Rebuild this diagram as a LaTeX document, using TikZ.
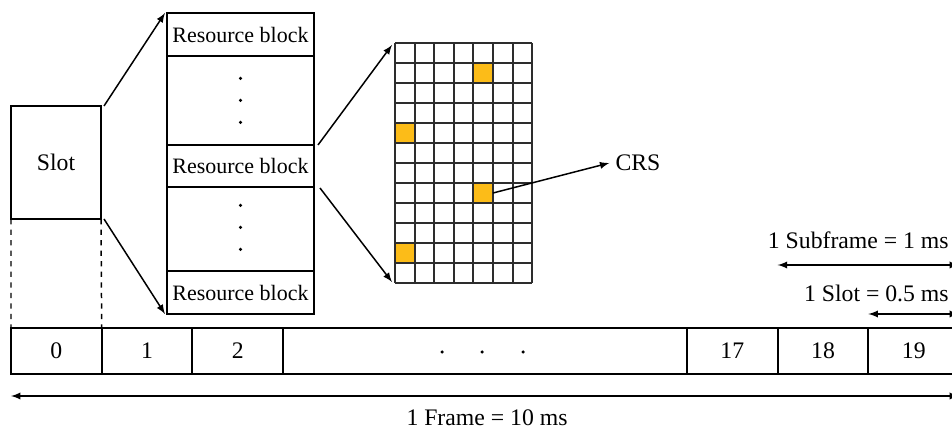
\documentclass[tikz,border=0pt]{standalone}
\usepackage{fontspec}
\setmainfont{Liberation Serif}
\usetikzlibrary{%
  arrows,%
  calc,%
  positioning%
}
\tikzset{>=latex}
\definecolor{crsorange}{RGB}{252,188,24}
\definecolor{gridgray}{RGB}{45,45,45}
\tikzset{
  cell/.style={draw,line width=1.1pt,minimum width=1.814cm,minimum height=0.92cm,inner sep=0pt,outer sep=0pt},
  rblock/.style={draw,line width=1.1pt,minimum width=2.94cm,inner sep=0pt,outer sep=0pt,font=\fontsize{12.5}{15}\selectfont},
  crscell/.style={fill=crsorange,minimum width=0.392cm,minimum height=0.4cm,inner sep=0pt,outer sep=0pt},
  arr/.style={line width=0.85pt},
  lbl/.style={inner sep=0pt}
}

\begin{document}
\begin{tikzpicture}[font=\fontsize{13.5}{16}\selectfont]
    \clip (0,0) rectangle (19.04,8.6);
    % frame with its slots
    \node[cell] (c0) at (1.127,1.58) {0};
    \node[cell,right=0pt of c0] (c1) {1};
    \node[cell,right=0pt of c1] (c2) {2};
    \node[cell,right=0pt of c2,minimum width=8.078cm] (cdots) {};
    \node[cell,right=0pt of cdots] (c17) {17};
    \node[cell,right=0pt of c17] (c18) {18};
    \node[cell,right=0pt of c18] (c19) {19};
    \foreach \dx in {-0.86,-0.06,0.76}
      \fill ($(cdots.center)+(\dx,-0.02)$) circle (0.035);
    % one slot
    \node[draw,line width=1.1pt,minimum width=1.8cm,minimum height=2.26cm,outer sep=0pt] (slot) at (1.12,5.35) {Slot};
    \draw[dashed,arr] (slot.south west) -- (c0.north west);
    \draw[dashed,arr] (slot.south east) -- (c0.north east);
    % resource blocks
    \node[rblock,minimum height=0.86cm] (rb1) at (4.81,7.91) {Resource block};
    \node[rblock,minimum height=1.78cm,below=0pt of rb1] (rbdots1) {};
    \node[rblock,minimum height=0.84cm,below=0pt of rbdots1] (rb2) {Resource block};
    \node[rblock,minimum height=1.68cm,below=0pt of rb2] (rbdots2) {};
    \node[rblock,minimum height=0.86cm,below=0pt of rbdots2] (rb3) {Resource block};
    \foreach \dy in {0.44,0,-0.44} {
      \fill ($(rbdots1.center)+(0,\dy)$) circle (0.035);
      \fill ($(rbdots2.center)+(0,\dy+0.03)$) circle (0.035);
    }
    \draw[->,arr] ($(slot.north east)+(0.06,0)$) -- ($(rb1.north west)+(-0.04,0)$);
    \draw[->,arr] ($(slot.south east)+(0.06,0)$) -- ($(rb3.south west)+(-0.04,0)$);
    % resource grid
    \coordinate (gtl) at (7.9,7.74);
    \coordinate (gbl) at (7.9,2.94);
    \foreach \c/\r/\n in {4/1/a,0/4/b,4/7/c,0/10/d}
      \node[crscell] (crs\n) at ($(gtl)+(\c*0.392+0.196,-\r*0.4-0.2)$) {};
    \foreach \i in {0,...,7}
      \draw[gridgray,line width=1.1pt] ($(gtl)+(\i*0.392,0)$) -- ++(0,-4.8);
    \foreach \j in {0,...,12}
      \draw[gridgray,line width=1.1pt] ($(gtl)+(0,-\j*0.4)$) -- ++(2.744,0);
    \draw[->,arr] ($(rb2.north east)+(0.08,0)$) -- ($(gtl)+(-0.06,-0.04)$);
    \draw[->,arr] ($(rb2.south east)+(0.12,-0.02)$) -- ($(gbl)+(-0.06,0.02)$);
    \node (crslbl) at (12.76,5.34) {CRS};
    \draw[->,arr] (crsc.east) -- (crslbl.west);
    % durations
    \draw[<->,arr] ($(c18.north west)+(0,1.26)$) -- ($(c19.north east)+(0,1.26)$);
    \node[lbl,anchor=east] (sublbl) at (18.98,3.8) {1 Subframe = 1 ms};
    \draw[<->,arr] ($(c19.north west)+(0,0.28)$) -- ($(c19.north east)+(0,0.28)$);
    \node[lbl,anchor=east] (slotlbl) at (18.98,2.74) {1 Slot = 0.5 ms};
    \draw[<->,arr] ($(c0.south west)+(0,-0.44)$) -- ($(c19.south east)+(0,-0.44)$);
    \node[lbl] (framelbl) at (9.74,0.24) {1 Frame = 10 ms};
\end{tikzpicture}
\end{document}
